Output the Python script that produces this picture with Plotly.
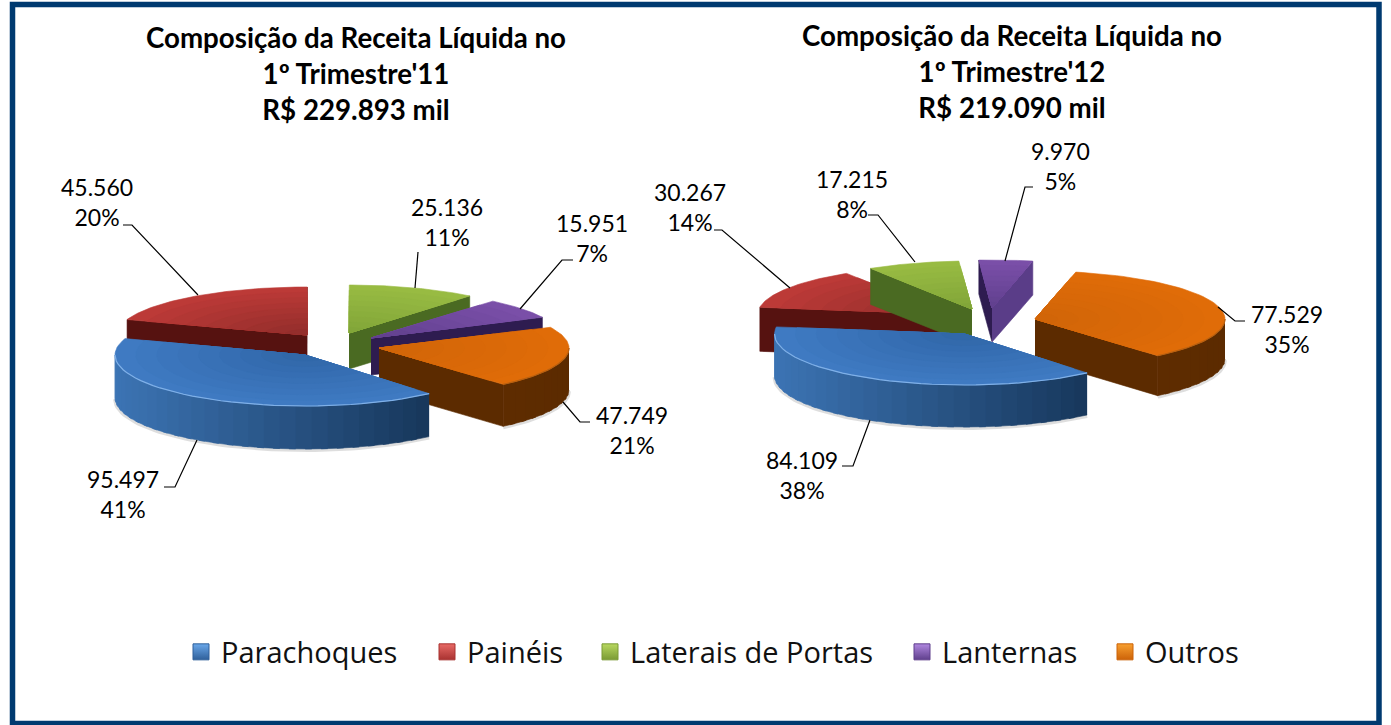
import numpy as np
import plotly.graph_objects as go

categories = ["Parachoques", "Painéis", "Laterais de Portas", "Lanternas", "Outros"]
values_11 = [95497, 45560, 25136, 15951, 47749]
values_12 = [84109, 30267, 17215, 9970, 77529]
pct_11 = [41, 20, 11, 7, 21]
pct_12 = [38, 14, 8, 5, 35]
titles = ["Composição da Receita Líquida no<br>1º Trimestre'11<br>R$ 229.893 mil",
          "Composição da Receita Líquida no<br>1º Trimestre'12<br>R$ 219.090 mil"]

# ---- styling / layout only below ----
TOP_OUT = ["#3f7ac2", "#bc3a37", "#98bb42", "#7a4fa8", "#e06c08"]
TOP_IN = ["#2f65a6", "#8e2c2a", "#7fa338", "#5f3f8c", "#cf6408"]
WALL_L = ["#3c74b4", "#561210", "#4a6a22", "#2e1c50", "#683200"]
WALL_R = ["#0f2a48", "#561210", "#4a6a22", "#2e1c50", "#5c2b00"]
RIM = ["#7fb0e8", "#a03a38", "#a8c860", "#8c68b8", "#b86010"]
LEG = ["#2f5f9a", "#a83230", "#7a9a34", "#5f3f8c", "#cc6208"]
LEG_HI = ["#6aa8ea", "#e86a66", "#b8d860", "#b088e0", "#f8a030"]
LEG_X = [186, 432, 595, 907, 1110]
DRAW_ORDER = [1, 2, 3, 4, 0]
RX = 190
RY = [51, 48, 48, 48, 48]

charts = [
    dict(values=values_11, pct=pct_11, start=139.2,
         apex=[(305, 355), (307, 335), (349, 333), (371, 338), (379, 348)],
         depth=[43, 38, 36, 37, 42],
         cut={},
         labels=[(123, 494), (97, 202), (447, 222), (592, 238), (632, 430)],
         lead=[[(197, 440), (175, 487), (164, 487)],
               [(123, 225), (132, 225), (198, 295)],
               [(418, 252), (415, 288)],
               [(573, 260), (562, 260), (520, 309)],
               [(563, 402), (580, 422), (590, 422)]],
         title=(356, 73.5)),
    dict(values=values_12, pct=pct_12, start=139.8,
         apex=[(964.5, 334), (948, 314), (972, 309), (992, 308), (1035, 319)],
         depth=[42, 44, 36, 34, 40],
         cut={(3, "end"): "#5a3d88"},
         labels=[(802, 475), (690, 207), (852, 194), (1060, 166), (1287, 329)],
         lead=[[(870, 420), (853, 466), (842, 466)],
               [(714, 230), (722, 230), (790, 288)],
               [(868, 215), (878, 215), (915, 262)],
               [(1033, 187), (1025, 187), (1005, 261)],
               [(1218, 307), (1235, 321), (1245, 321)]],
         title=(1012, 71.5)),
]


def rgb(h):
    return np.array([int(h[i:i + 2], 16) for i in (1, 3, 5)], float)


def mix(a, b, t):
    c = rgb(a) * (1 - t) + rgb(b) * t
    return "rgb(%d,%d,%d)" % tuple(c.round())


def pt(c, ang, ry, s=1.0, dy=0):
    ang = np.radians(ang)
    return c[0] + s * RX * np.sin(ang), c[1] - s * ry * np.cos(ang) + dy


fig = go.Figure()


def poly(xs, ys, color):
    fig.add_trace(go.Scatter(x=list(xs), y=list(ys), mode="lines", fill="toself",
                             fillcolor=color, line=dict(color=color, width=0.6),
                             hoverinfo="skip", showlegend=False))


for ch in charts:
    vals = np.array(ch["values"], float)
    sweep = vals / vals.sum() * 360
    ends = ch["start"] + np.cumsum(sweep)
    starts = ends - sweep
    wrap = starts >= 359.99
    starts, ends = starts - 360 * wrap, ends - 360 * wrap
    for i in DRAW_ORDER:
        c, d, a0, a1, ry = ch["apex"][i], ch["depth"][i], starts[i], ends[i], RY[i]
        w0, w1 = max(a0, 90), min(a1, 270)
        # soft shadow
        if w1 > w0:
            ax, ay = pt(c, np.linspace(w0, w1, 60), ry, dy=d)
            fig.add_trace(go.Scatter(x=list(ax), y=list(ay + 1), mode="lines",
                                     line=dict(color="rgba(0,0,0,0.13)", width=4),
                                     hoverinfo="skip", showlegend=False))
        # flat cut walls
        for name, ang, vis in (("start", a0, np.sin(np.radians(a0)) < 0),
                               ("end", a1, np.sin(np.radians(a1)) > 0)):
            if vis:
                px, py = pt(c, ang, ry)
                poly([c[0], px, px, c[0]], [c[1], py, py + d, c[1] + d],
                     ch["cut"].get((i, name), WALL_R[i]))
        # curved outer wall, front half only
        if w1 > w0:
            steps = np.linspace(w0, w1, int((w1 - w0) / 5) + 2)
            for u, v in zip(steps[:-1], steps[1:]):
                v2 = min(v + 2, w1)
                ux, uy = pt(c, u, ry)
                vx, vy = pt(c, v2, ry)
                t = 1 - (np.sin(np.radians((u + v) / 2)) + 1) / 2
                poly([ux, vx, vx, ux], [uy, vy, vy + d, uy + d],
                     mix(WALL_R[i], WALL_L[i], t))
        # top surface, nested wedges for the gradient
        for s in np.linspace(1, 0.12, 9):
            ax, ay = pt(c, np.linspace(a0, a1, 60), ry, s=s)
            poly([c[0], *ax, c[0]], [c[1], *ay, c[1]], mix(TOP_IN[i], TOP_OUT[i], s))
        if w1 > w0:
            ax, ay = pt(c, np.linspace(w0, w1, 40), ry)
            fig.add_trace(go.Scatter(x=list(ax), y=list(ay), mode="lines",
                                     line=dict(color=RIM[i], width=1.2),
                                     hoverinfo="skip", showlegend=False))
    # leader lines and labels
    for i in range(5):
        lx, ly = zip(*ch["lead"][i])
        fig.add_trace(go.Scatter(x=lx, y=ly, mode="lines",
                                 line=dict(color="#000", width=1.2),
                                 hoverinfo="skip", showlegend=False))
        txt = f"{ch['values'][i]:,}".replace(",", ".") + f"<br>{ch['pct'][i]}%"
        fig.add_annotation(x=ch["labels"][i][0], y=ch["labels"][i][1], text=txt,
                           showarrow=False, align="center",
                           font=dict(family="Lato", size=23, color="#000"))

for t, ch in zip(titles, charts):
    fig.add_annotation(x=ch["title"][0], y=ch["title"][1], text=f"<b>{t}</b>",
                       showarrow=False, align="center",
                       font=dict(family="Lato", size=27.7, color="#000"))

legends = {}
for k, (name, col, hi, px) in enumerate(zip(categories, LEG, LEG_HI, LEG_X)):
    key = "legend" if k == 0 else f"legend{k + 1}"
    fig.add_trace(go.Scatter(x=[None], y=[None], mode="markers", name=name, legend=key,
                             marker=dict(symbol="square", size=21, color=hi,
                                         gradient=dict(type="vertical", color=col),
                                         line=dict(color=col, width=1)),
                             hoverinfo="skip"))
    legends[key] = dict(x=(px - 5) / 1391, xanchor="left", y=1 - 652 / 725, yanchor="middle",
                        orientation="h", font=dict(family="Open Sans", size=29, color="#111"),
                        bgcolor="rgba(0,0,0,0)")

fig.add_shape(type="rect", x0=12.5, y0=4.5, x1=1379, y1=723.5,
              line=dict(color="#003a70", width=5.5), layer="below")

fig.update_layout(
    width=1391, height=725, autosize=False, margin=dict(l=0, r=0, t=0, b=0),
    paper_bgcolor="white", plot_bgcolor="white",
    xaxis=dict(range=[0, 1391], visible=False, fixedrange=True),
    yaxis=dict(range=[725, 0], visible=False, fixedrange=True),
    showlegend=True, **legends,
)
fig.write_html("out.html", config={"displayModeBar": False},
               post_script="document.body.style.margin='0';")
